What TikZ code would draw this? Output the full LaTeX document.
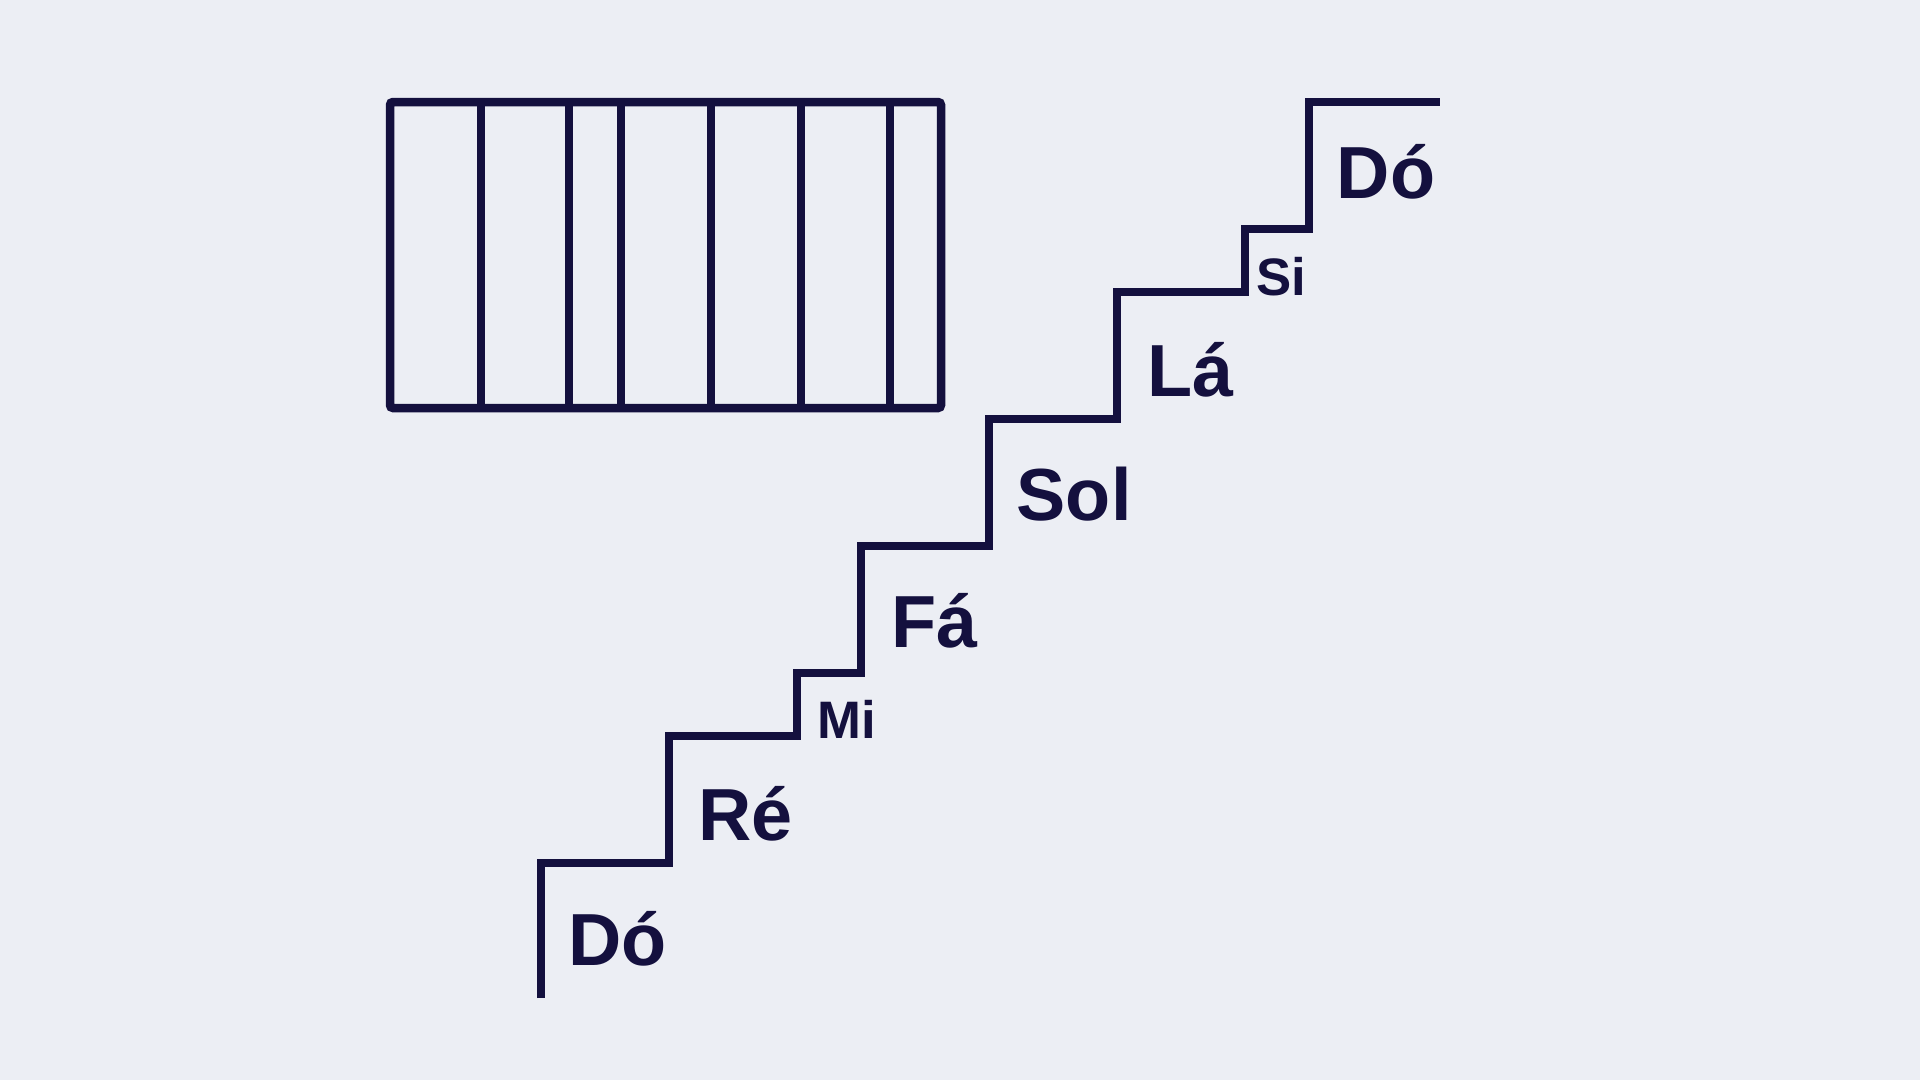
\documentclass[tikz,border=0pt]{standalone}
\usepackage{fontspec}
\setmainfont{Liberation Sans}
\usetikzlibrary{positioning}
\definecolor{inkNavy}{RGB}{20,16,62}
\definecolor{paperGrey}{RGB}{236,238,244}
\newcommand{\stairColor}{inkNavy}
\newcommand{\paperColor}{paperGrey}

\begin{document}
\begin{tikzpicture}[
            x=0.1mm, y=-0.1mm,
            every node/.append style={inner sep=0pt, text=\stairColor},
            note/.style={anchor=base west, font=\fontsize{21pt}{24pt}\selectfont\bfseries},
            halfnote/.style={anchor=base west, font=\fontsize{15pt}{18pt}\selectfont\bfseries},
            stairline/.style={draw=\stairColor, line width=0.85mm, line join=miter}
        ]
        \fill[\paperColor] (0,0) rectangle (1920,1080);
        \useasboundingbox (0,0) rectangle (1920,1080);

        % bar with seven cells
        \draw[stairline, rounded corners=0.3mm] (390,102) rectangle (941,408);
        \foreach \cellx in {481,569,621,711,801,890}
            \draw[stairline] (\cellx,102) -- (\cellx,408);

        % the scale as a staircase
        \draw[stairline]
            (541,998) -- ++(0,-135) -- ++(128,0)
            -- ++(0,-127) -- ++(128,0)
            -- ++(0,-63) -- ++(64,0)
            -- ++(0,-127) -- ++(128,0)
            -- ++(0,-127) -- ++(128,0)
            -- ++(0,-127) -- ++(128,0)
            -- ++(0,-63) -- ++(64,0)
            -- ++(0,-127) -- ++(131,0);

        \node[note] (doLow) at (568,965) {Dó};
        \node[note] (re) at (698,840) {Ré};
        \node[halfnote] (mi) at (817,738) {Mi};
        \node[note] (fa) at (891,647) {Fá};
        \node[note] (sol) at (1016,520) {Sol};
        \node[note] (la) at (1147,396) {Lá};
        \node[halfnote] (si) at (1256,295) {Si};
        \node[note] (doHigh) at (1336,198) {Dó};
    \end{tikzpicture}
\end{document}
